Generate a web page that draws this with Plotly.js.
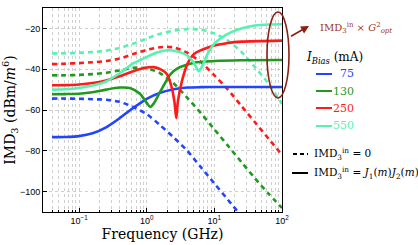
<!DOCTYPE html>
<html>
<head>
<meta charset="utf-8">
<script src="https://cdn.plot.ly/plotly-3.0.1.min.js"></script>
<style>html,body{margin:0;padding:0;background:#fff;}#chart{width:418px;height:245px;}</style>
</head>
<body>
<div id="chart"></div>
<script>
// Frequency (log10 GHz) sample points and IMD3 values (dBm/m^6)
const logF_dash = [-1.4, -1.2, -1.0, -0.8, -0.6, -0.4, -0.2, 0.0, 0.2, 0.4, 0.6, 0.8, 1.0, 1.2, 1.4, 1.6, 1.8, 2.0];
const blue_dash  = [-54.4, -54.4, -54.5, -54.7, -55.0, -56.0, -58.5, -62.0, -67.5, -73.5, -80.0, -88.0, -96.0, -104.0, -112.0, -120.0, -128.0, -136.0];
const green_dash = [-43.0, -43.0, -42.8, -42.4, -41.8, -40.6, -39.3, -39.5, -42.0, -47.0, -54.0, -61.5, -69.5, -77.5, -85.5, -93.5, -101.0, -108.0];
const red_dash   = [-37.5, -37.3, -37.0, -36.6, -36.0, -34.8, -32.6, -30.5, -29.2, -29.3, -32.0, -36.5, -43.0, -50.0, -58.0, -66.0, -74.0, -82.0];
const cyan_dash  = [-32.3, -32.2, -32.0, -31.6, -30.9, -29.6, -27.5, -25.0, -22.6, -21.1, -20.4, -20.6, -22.5, -26.0, -31.5, -39.0, -47.0, -57.0];

const logF_blue  = [-1.4, -1.2, -1.0, -0.8, -0.6, -0.4, -0.2, 0.0, 0.2, 0.4, 0.6, 0.8, 1.0, 1.5, 2.0];
const blue_solid = [-73.3, -73.2, -72.8, -71.4, -68.5, -64.0, -59.0, -54.5, -51.5, -49.8, -49.0, -48.8, -48.7, -48.7, -48.7];

const logF_green  = [-1.4, -1.2, -1.0, -0.8, -0.6, -0.4, -0.25, -0.1, 0.0, 0.05, 0.1, 0.2, 0.35, 0.45, 0.7, 1.0, 1.4, 2.0];
const green_solid = [-52.3, -52.2, -52.0, -51.3, -50.0, -49.0, -49.2, -52.0, -56.5, -58.5, -57.0, -51.0, -42.5, -39.7, -36.8, -36.0, -35.6, -35.5];

const logF_red  = [-1.4, -1.2, -1.0, -0.8, -0.6, -0.4, -0.2, 0.0, 0.1, 0.2, 0.3, 0.37, 0.41, 0.437, 0.46, 0.52, 0.6, 0.7, 0.94, 1.2, 1.4, 2.0];
const red_solid = [-47.9, -47.8, -47.5, -46.8, -45.5, -43.5, -41.0, -39.2, -39.0, -40.0, -42.5, -49.0, -56.0, -64.0, -56.0, -46.0, -37.5, -32.5, -29.0, -27.2, -26.5, -26.0];

const logF_cyan  = [-1.4, -1.2, -1.0, -0.8, -0.6, -0.4, -0.2, 0.0, 0.15, 0.3, 0.45, 0.6, 0.7, 0.77, 0.83, 0.9, 1.0, 1.1, 1.25, 1.4, 1.6, 1.8, 2.0];
const cyan_solid = [-50.0, -49.8, -49.2, -48.0, -46.0, -42.0, -37.2, -34.0, -31.8, -30.7, -31.3, -33.2, -37.0, -41.0, -38.0, -32.5, -27.5, -24.7, -21.8, -20.0, -18.6, -18.1, -18.0];

const biasLabels = ['75', '130', '250', '550'];
const colors = ['#2244ff', '#1f9a1f', '#ff1a1a', '#55f2b2'];
const xTickVals = [0.1, 1, 10, 100];
const xTickText = ['10<sup>−1</sup>', '10<sup>0</sup>', '10<sup>1</sup>', '10<sup>2</sup>'];
const xMinorVals = [0.04,0.05,0.06,0.07,0.08,0.09,0.2,0.3,0.4,0.5,0.6,0.7,0.8,0.9,2,3,4,5,6,7,8,9,20,30,40,50,60,70,80,90];
const yTickVals = [-100, -80, -60, -40, -20];
const yTickText = ['−100', '−80', '−60', '−40', '−20'];

const toF = a => a.map(v => Math.pow(10, v));
const serif = 'DejaVu Serif';
const sans = 'Liberation Sans';

function tr(lx, y, color, dash) {
  return {x: toF(lx), y: y, type: 'scatter', mode: 'lines',
    line: {color: color, width: 2.6, dash: dash, shape: 'spline', smoothing: 0.7},
    hoverinfo: 'skip', showlegend: false};
}
const dashPat = '5px,4px';
const data = [
  tr(logF_dash, blue_dash, colors[0], dashPat),
  tr(logF_dash, green_dash, colors[1], dashPat),
  tr(logF_dash, red_dash, colors[2], dashPat),
  tr(logF_dash, cyan_dash, colors[3], dashPat),
  tr(logF_blue, blue_solid, colors[0], 'solid'),
  tr(logF_green, green_solid, colors[1], 'solid'),
  tr(logF_red, red_solid, colors[2], 'solid'),
  tr(logF_cyan, cyan_solid, colors[3], 'solid')
];

const L = 43, R = 282, T = 8, B = 212;
const px = x => (x - L) / (R - L);
const py = y => (B - y) / (B - T);
const brown = '#8e1f12';

const shapes = [
  {type: 'circle', xref: 'paper', yref: 'paper', x0: px(267), x1: px(289), y0: py(98), y1: py(12),
   line: {color: brown, width: 1.6}}
];
const legY = [74, 91, 108, 126];
const annotations = [
  {xref: 'paper', yref: 'paper', x: px(309), y: py(26), ax: -21, ay: 12, text: ' ', showarrow: true,
   arrowhead: 2, arrowsize: 1, arrowwidth: 1.6, arrowcolor: brown, standoff: 0},
  {xref: 'paper', yref: 'paper', x: px(318), y: py(28), xanchor: 'left', yanchor: 'middle', showarrow: false,
   text: 'IMD<sub>3</sub><sup>in</sup> × <i>G</i><sup>2</sup><sub><i>opt</i></sub>', font: {family: serif, size: 10, color: '#a03525'}},
  {xref: 'paper', yref: 'paper', x: px(304), y: py(58), xanchor: 'left', yanchor: 'middle', showarrow: false,
   text: '<i>I</i><sub><i>Bias</i></sub> (mA)', font: {family: serif, size: 12, color: '#000'}},
  {xref: 'paper', yref: 'paper', x: px(312), y: py(154), xanchor: 'left', yanchor: 'middle', showarrow: false,
   text: 'IMD<sub>3</sub><sup>in</sup> = 0', font: {family: serif, size: 10.5, color: '#000'}},
  {xref: 'paper', yref: 'paper', x: px(312), y: py(173), xanchor: 'left', yanchor: 'middle', showarrow: false,
   text: 'IMD<sub>3</sub><sup>in</sup> = <i>J</i><sub>1</sub>(<i>m</i>)<i>J</i><sub>2</sub>(<i>m</i>)', font: {family: serif, size: 10.5, color: '#000'}}
];
shapes.push({type: 'line', xref: 'paper', yref: 'paper', x0: px(293), x1: px(308), y0: py(154), y1: py(154),
  line: {color: '#000', width: 2, dash: '4px,3px'}});
shapes.push({type: 'line', xref: 'paper', yref: 'paper', x0: px(292), x1: px(308), y0: py(173), y1: py(173),
  line: {color: '#000', width: 2}});
biasLabels.forEach((lab, i) => {
  shapes.push({type: 'line', xref: 'paper', yref: 'paper', x0: px(316), x1: px(332), y0: py(legY[i]), y1: py(legY[i]),
    line: {color: colors[i], width: 2}});
  annotations.push({xref: 'paper', yref: 'paper', x: px(356), y: py(legY[i]), xanchor: 'right', yanchor: 'middle',
    showarrow: false, text: lab, font: {family: serif, size: 11, color: colors[i]}});
});

const gridc = '#cfcfcf';
const layout = {
  width: 418, height: 245,
  margin: {l: L, r: 418 - R, t: T, b: 245 - B, pad: 0},
  paper_bgcolor: '#fff', plot_bgcolor: '#fff',
  showlegend: false,
  xaxis: {
    type: 'log', range: [Math.log10(0.0293), 2.0],
    tickmode: 'array', tickvals: xTickVals, ticktext: xTickText,
    ticks: 'inside', ticklen: 4, tickcolor: '#000',
    showgrid: true, gridcolor: gridc, griddash: 'dot', gridwidth: 1,
    minor: {tickmode: 'array', tickvals: xMinorVals, showgrid: true, gridcolor: gridc, griddash: 'dot', gridwidth: 1, ticks: 'inside', ticklen: 2, tickcolor: '#000'},
    showline: true, mirror: true, linecolor: '#000', linewidth: 1,
    zeroline: false,
    tickfont: {family: sans, size: 9, color: '#000'},
    title: {text: 'Frequency (GHz)', font: {family: serif, size: 14, color: '#000'}, standoff: 3}
  },
  yaxis: {
    range: [-110, -10],
    tickmode: 'array', tickvals: yTickVals, ticktext: yTickText,
    ticks: 'inside', ticklen: 4, tickcolor: '#000',
    showgrid: true, gridcolor: gridc, griddash: 'dot', gridwidth: 1,
    showline: true, mirror: true, linecolor: '#000', linewidth: 1,
    zeroline: false,
    tickfont: {family: sans, size: 9, color: '#000'},
    title: {text: 'IMD<sub>3</sub> (dBm/<i>m</i><sup>6</sup>)', font: {family: serif, size: 14, color: '#000'}, standoff: 2}
  },
  shapes: shapes,
  annotations: annotations
};
Plotly.newPlot('chart', data, layout, {staticPlot: true, displayModeBar: false});
</script>
</body>
</html>
